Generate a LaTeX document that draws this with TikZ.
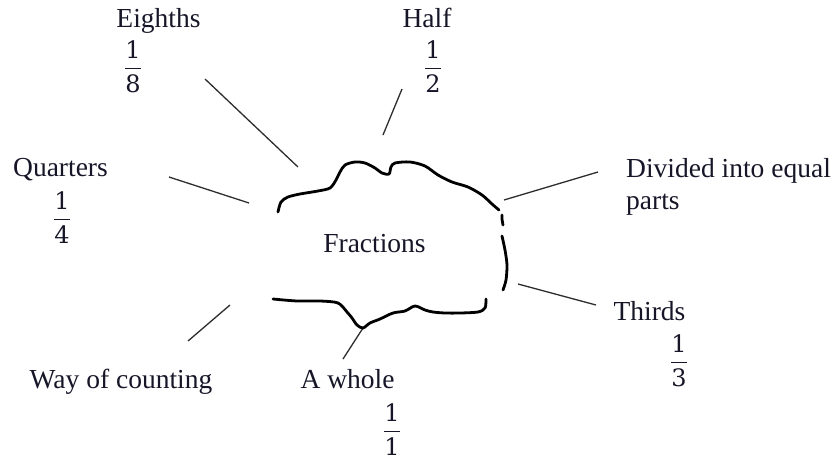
\documentclass[tikz,border=0pt]{standalone}
\usepackage{amsmath}
\usepackage{fontspec}
\setmainfont{Liberation Serif}
\newfontfamily\digf{DejaVu Serif}
\definecolor{ink}{RGB}{22,22,40}
\definecolor{linkc}{RGB}{45,45,45}
\newcommand\myfrac[2]{$\genfrac{}{}{1.3pt}{0}{\mbox{\fontsize{24}{26}\digf #1}}{\mbox{\fontsize{24}{26}\digf #2}}$}
\begin{document}
\begin{tikzpicture}[x=1pt,y=-1pt,
  lbl/.style={font=\fontsize{27.5}{32}\selectfont, text=ink, inner sep=0pt, anchor=base},
  fracnode/.style={font=\fontsize{26}{28}\selectfont, text=ink, inner sep=0pt, anchor=base},
  link/.style={draw=linkc, line width=1.3pt},
  cloud/.style={draw=black, line width=2.8pt, line cap=round, line join=round}]
\useasboundingbox[fill=white] (0,0) rectangle (839,461);

% labels
\node[lbl] (eighths) at (158.5,27) {Eighths};
\node[fracnode] (f8) at (133,75) {\myfrac{1}{8}};
\node[lbl] (half) at (427,27) {Half};
\node[fracnode] (f2) at (433,75) {\myfrac{1}{2}};
\node[lbl] (quarters) at (60.5,176) {Quarters};
\node[fracnode] (f4) at (62,226) {\myfrac{1}{4}};
\node[lbl, anchor=base west, align=left] (divided) at (626,209) {Divided into equal\\parts};
\node[lbl] (fractions) at (374.5,252) {Fractions};
\node[lbl] (thirds) at (649.5,320) {Thirds};
\node[fracnode] (f3) at (679,369) {\myfrac{1}{3}};
\node[lbl] (way) at (121,388) {Way of counting};
\node[lbl] (whole) at (347.5,388) {A whole};
\node[fracnode] (f1) at (392,438) {\myfrac{1}{1}};

% connector ends
\coordinate (e1) at (205,79);  \coordinate (e2) at (298,167);
\coordinate (h1) at (402,89);  \coordinate (h2) at (383,135);
\coordinate (q1) at (169,177); \coordinate (q2) at (249,203);
\coordinate (d1) at (598,172); \coordinate (d2) at (504,200);
\coordinate (t1) at (518,284); \coordinate (t2) at (596,305);
\coordinate (w1) at (188,341); \coordinate (w2) at (230,305);
\coordinate (a1) at (343,359); \coordinate (a2) at (363,328);

\draw[link] (e1) -- (e2);
\draw[link] (h1) -- (h2);
\draw[link] (q1) -- (q2);
\draw[link] (d1) -- (d2);
\draw[link] (t1) -- (t2);
\draw[link] (w1) -- (w2);
\draw[link] (a1) -- (a2);

% cloud
\draw[cloud] plot[smooth, tension=0.5] coordinates {
  (278,212) (281,202) (288,197) (300,194) (318,191) (330,188) (336,180)
  (340,172) (345,165) (355,162) (365,163) (375,168) (382,173) (389,174)
  (391,167) (395,163) (410,162) (425,166) (438,175) (452,182) (468,187)
  (482,195) (492,204) (499,210)};
\draw[cloud] plot[smooth, tension=0.5] coordinates {(502,215) (502,219) (503,225)};
\draw[cloud] plot[smooth, tension=0.5] coordinates {
  (502,236) (505,250) (507,265) (506,280) (503,290)};
\draw[cloud] plot[smooth, tension=0.5] coordinates {
  (273,299) (297,301) (320,301) (338,303) (347,312) (352,318) (357,325)
  (363,328) (370,323) (380,319) (393,313) (405,311) (415,306) (425,310)
  (433,312) (445,313) (460,313) (478,312) (485,308) (486,299)};
\end{tikzpicture}
\end{document}
